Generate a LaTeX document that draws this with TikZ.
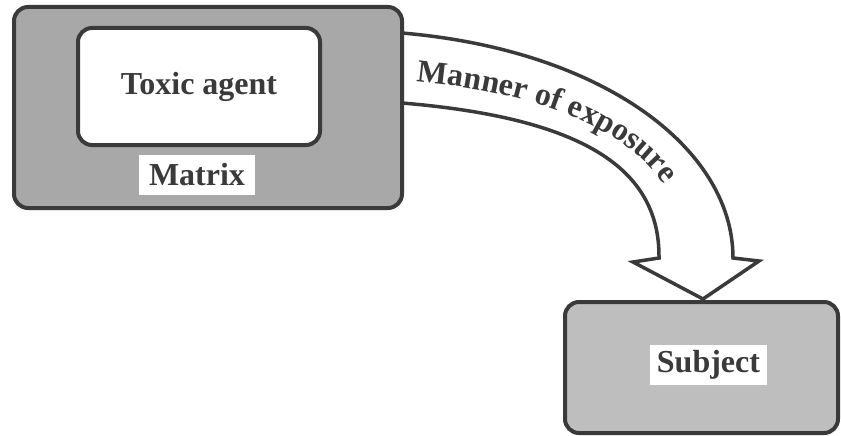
\documentclass[tikz,border=0pt]{standalone}
\usepackage{fontspec}
\setmainfont{Liberation Serif}
\usetikzlibrary{decorations.text}
\definecolor{ink}{HTML}{3A3A3A}
\definecolor{matrixgrey}{HTML}{A8A8A8}
\definecolor{subjgrey}{HTML}{BEBEBE}
\begin{document}
\begin{tikzpicture}[x=1pt,y=-1pt,
  box/.style={draw=ink, line width=4pt, rounded corners=14pt, inner sep=0pt},
  lbl/.style={font=\fontsize{32}{36}\selectfont\bfseries, text=ink},
  tag/.style={lbl, fill=white, inner sep=0pt},
  exposure/.style={draw=ink, fill=white, line width=3.5pt, line join=miter}]
\useasboundingbox (0,0) rectangle (841,436);
% arrow (manner of exposure)
\coordinate (atop) at (402,33);
\coordinate (abot) at (402,103);
\coordinate (rshaft) at (733,258);
\coordinate (lshaft) at (659,258);
\coordinate (rwing) at (759,261);
\coordinate (lwing) at (633,262);
\coordinate (tip) at (703,299);
\draw[exposure] (atop) .. controls (602,50) and (733,148) .. (rshaft) -- (rwing) -- (tip) -- (lwing) -- (lshaft) .. controls (660,168) and (582,118) .. (abot) -- cycle;
\path[decorate, decoration={text along path,
   text={|\fontsize{32}{32}\selectfont\bfseries|Manner of exposure},
   text color=ink, text align={left indent=15pt}}]
   (402,80) .. controls (590,95) and (687,162) .. (687,258);
% matrix box
\node[box, fill=matrixgrey, minimum width=388pt, minimum height=201pt] (matrixbox) at (208,107.5) {};
\node[box, fill=white, lbl, minimum width=242pt, minimum height=117pt] (toxic) at (199,86.5) {Toxic agent};
\node[tag, minimum width=116pt, minimum height=40pt] (matrixlabel) at (197,175) {Matrix};
% subject box
\node[box, fill=subjgrey, minimum width=273pt, minimum height=131pt] (subject) at (701.5,367.5) {};
\node[tag, minimum width=117pt, minimum height=40pt] (subjectlabel) at (708.5,365) {Subject};
\end{tikzpicture}
\end{document}
